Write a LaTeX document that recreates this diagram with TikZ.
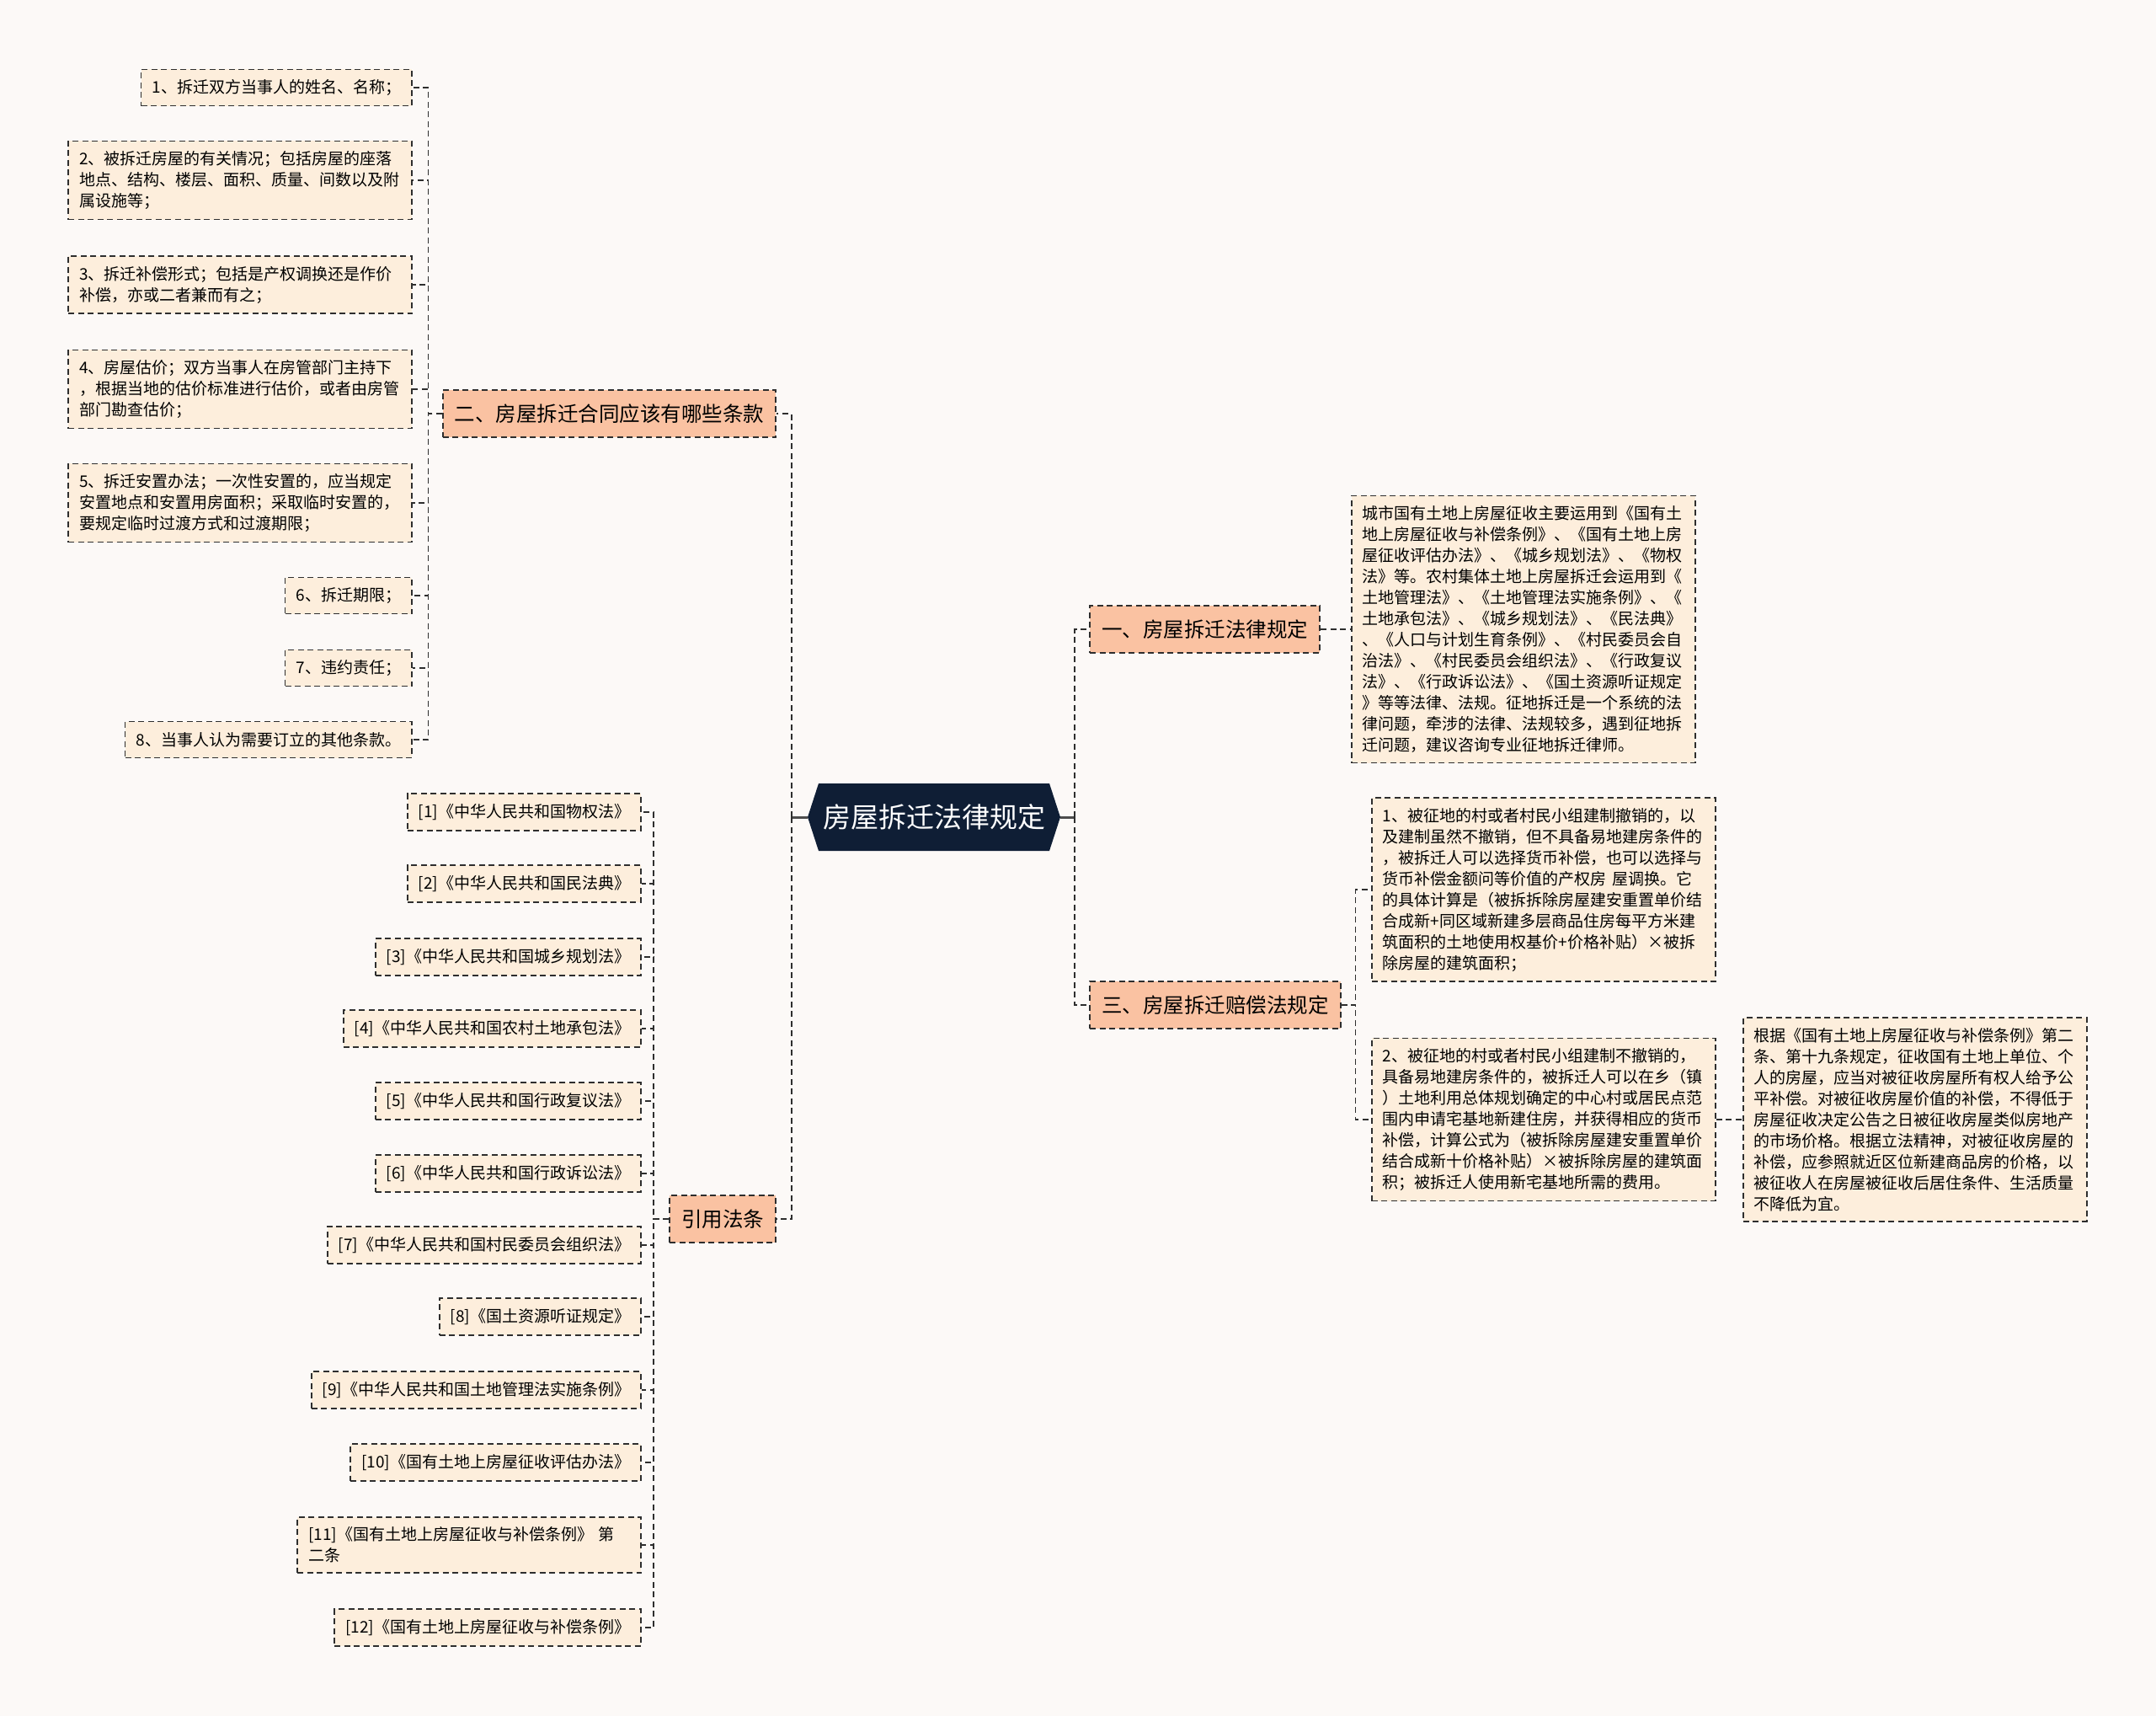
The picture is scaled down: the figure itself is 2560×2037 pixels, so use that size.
\documentclass[tikz,border=0pt]{standalone}
\usepackage{fontspec}
\setmainfont{Noto Sans CJK SC}
\usepackage{tikz}
\usetikzlibrary{shapes.symbols}
\definecolor{bgc}{HTML}{FCF9F7}
\definecolor{leafc}{HTML}{FDEEDC}
\definecolor{topicc}{HTML}{FAC2A2}
\definecolor{rootc}{HTML}{0F1E35}
\definecolor{linec}{HTML}{2E2E2E}
\tikzset{
  rootbox/.style ={signal, signal to=west and east, signal pointer angle=144,
                   fill=rootc, text=white, minimum width=300pt,
                   minimum height=80pt, inner sep=0pt,
                   font=\fontsize{33}{40}\selectfont},
  topic/.style   ={draw=linec, dash pattern=on 7pt off 4.5pt, line width=2pt,
                   fill=topicc, inner xsep=14pt, inner ysep=0pt,
                   minimum height=56pt, font=\fontsize{24.5}{30}\selectfont},
  leaf/.style    ={draw=linec, dash pattern=on 7pt off 4.5pt, line width=1.8pt,
                   fill=leafc, inner xsep=13pt, inner ysep=12pt,
                   minimum height=43pt, align=left,
                   font=\fontsize{19}{25}\selectfont},
  wrapleaf/.style={leaf, text width=382pt},
  link/.style    ={draw=linec, dash pattern=on 7pt off 4.5pt, line width=1.8pt},
  trunk/.style   ={draw=linec!85, line width=3pt},
}
\begin{document}
\begin{tikzpicture}[x=1pt, y=-1pt]
  \fill[bgc] (0,0) rectangle (2560,2037);
  \useasboundingbox (0,0) rectangle (2560,2037);
  % ---- root and its four topics
  \node[rootbox] (root) at (1109,970) {房屋拆迁法律规定};
  \node[topic, anchor=east] (two)   at (922,491)   {二、房屋拆迁合同应该有哪些条款};
  \node[topic, anchor=east] (cite)  at (922,1447)  {引用法条};
  \node[topic, anchor=west] (one)   at (1293,747)  {一、房屋拆迁法律规定};
  \node[topic, anchor=west] (three) at (1293,1193) {三、房屋拆迁赔偿法规定};
  \draw[trunk] (root.west) -- ++(-19,0) coordinate (lbus);
  \draw[trunk] (root.east) -- ++(17,0) coordinate (rbus);
  \draw[link] (lbus) |- (two.east);
  \draw[link] (lbus) |- (cite.east);
  \draw[link] (rbus) |- (one.west);
  \draw[link] (rbus) |- (three.west);
  % ---- contract clauses
  \node[leaf, anchor=east] (t1) at (490,104) {1、拆迁双方当事人的姓名、名称；};
  \node[wrapleaf, anchor=east] (t2) at (490,214)
    {2、被拆迁房屋的有关情况；包括房屋的座落\\地点、结构、楼层、面积、质量、间数以及附\\属设施等；};
  \node[wrapleaf, anchor=east] (t3) at (490,338)
    {3、拆迁补偿形式；包括是产权调换还是作价\\补偿，亦或二者兼而有之；};
  \node[wrapleaf, anchor=east] (t4) at (490,462)
    {4、房屋估价；双方当事人在房管部门主持下\\，根据当地的估价标准进行估价，或者由房管\\部门勘查估价；};
  \node[wrapleaf, anchor=east] (t5) at (490,597)
    {5、拆迁安置办法；一次性安置的，应当规定\\安置地点和安置用房面积；采取临时安置的，\\要规定临时过渡方式和过渡期限；};
  \node[leaf, anchor=east] (t6) at (490,707) {6、拆迁期限；};
  \node[leaf, anchor=east] (t7) at (490,793) {7、违约责任；};
  \node[leaf, anchor=east] (t8) at (490,878) {8、当事人认为需要订立的其他条款。};
  \draw[link] (two.west) -- ++(-16,0) |- (t1.east);
  \draw[link] (two.west) -- ++(-16,0) |- (t2.east);
  \draw[link] (two.west) -- ++(-16,0) |- (t3.east);
  \draw[link] (two.west) -- ++(-16,0) |- (t4.east);
  \draw[link] (two.west) -- ++(-16,0) |- (t5.east);
  \draw[link] (two.west) -- ++(-16,0) |- (t6.east);
  \draw[link] (two.west) -- ++(-16,0) |- (t7.east);
  \draw[link] (two.west) -- ++(-16,0) |- (t8.east);
  % ---- cited laws
  \node[leaf, anchor=east] (c1)  at (762,964)  {[1]《中华人民共和国物权法》};
  \node[leaf, anchor=east] (c2)  at (762,1049) {[2]《中华人民共和国民法典》};
  \node[leaf, anchor=east] (c3)  at (762,1136) {[3]《中华人民共和国城乡规划法》};
  \node[leaf, anchor=east] (c4)  at (762,1221) {[4]《中华人民共和国农村土地承包法》};
  \node[leaf, anchor=east] (c5)  at (762,1307) {[5]《中华人民共和国行政复议法》};
  \node[leaf, anchor=east] (c6)  at (762,1393) {[6]《中华人民共和国行政诉讼法》};
  \node[leaf, anchor=east] (c7)  at (762,1478) {[7]《中华人民共和国村民委员会组织法》};
  \node[leaf, anchor=east] (c8)  at (762,1563) {[8]《国土资源听证规定》};
  \node[leaf, anchor=east] (c9)  at (762,1650) {[9]《中华人民共和国土地管理法实施条例》};
  \node[leaf, anchor=east] (c10) at (762,1736) {[10]《国有土地上房屋征收评估办法》};
  \node[wrapleaf, anchor=east] (c11) at (762,1834)
    {[11]《国有土地上房屋征收与补偿条例》 第\\二条};
  \node[leaf, anchor=east] (c12) at (762,1932) {[12]《国有土地上房屋征收与补偿条例》};
  \draw[link] (cite.west) -- ++(-18,0) |- (c1.east);
  \draw[link] (cite.west) -- ++(-18,0) |- (c2.east);
  \draw[link] (cite.west) -- ++(-18,0) |- (c3.east);
  \draw[link] (cite.west) -- ++(-18,0) |- (c4.east);
  \draw[link] (cite.west) -- ++(-18,0) |- (c5.east);
  \draw[link] (cite.west) -- ++(-18,0) |- (c6.east);
  \draw[link] (cite.west) -- ++(-18,0) |- (c7.east);
  \draw[link] (cite.west) -- ++(-18,0) |- (c8.east);
  \draw[link] (cite.west) -- ++(-18,0) |- (c9.east);
  \draw[link] (cite.west) -- ++(-18,0) |- (c10.east);
  \draw[link] (cite.west) -- ++(-18,0) |- (c11.east);
  \draw[link] (cite.west) -- ++(-18,0) |- (c12.east);
  % ---- right side: rules and compensation
  \node[wrapleaf, anchor=west] (onetxt) at (1604,747)
    {城市国有土地上房屋征收主要运用到《国有土\\地上房屋征收与补偿条例》、《国有土地上房\\屋征收评估办法》、《城乡规划法》、《物权\\法》等。农村集体土地上房屋拆迁会运用到《\\土地管理法》、《土地管理法实施条例》、《\\土地承包法》、《城乡规划法》、《民法典》\\、《人口与计划生育条例》、《村民委员会自\\治法》、《村民委员会组织法》、《行政复议\\法》、《行政诉讼法》、《国土资源听证规定\\》等等法律、法规。征地拆迁是一个系统的法\\律问题，牵涉的法律、法规较多，遇到征地拆\\迁问题，建议咨询专业征地拆迁律师。};
  \node[wrapleaf, anchor=west] (th1) at (1628,1056)
    {1、被征地的村或者村民小组建制撤销的，以\\及建制虽然不撤销，但不具备易地建房条件的\\，被拆迁人可以选择货币补偿，也可以选择与\\货币补偿金额问等价值的产权房 屋调换。它\\的具体计算是（被拆拆除房屋建安重置单价结\\合成新+同区域新建多层商品住房每平方米建\\筑面积的土地使用权基价+价格补贴）×被拆\\除房屋的建筑面积；};
  \node[wrapleaf, anchor=west] (th2) at (1628,1329)
    {2、被征地的村或者村民小组建制不撤销的，\\具备易地建房条件的，被拆迁人可以在乡（镇\\）土地利用总体规划确定的中心村或居民点范\\围内申请宅基地新建住房，并获得相应的货币\\补偿，计算公式为（被拆除房屋建安重置单价\\结合成新十价格补贴）×被拆除房屋的建筑面\\积；被拆迁人使用新宅基地所需的费用。};
  \node[wrapleaf, anchor=west] (th2note) at (2069,1329)
    {根据《国有土地上房屋征收与补偿条例》第二\\条、第十九条规定，征收国有土地上单位、个\\人的房屋，应当对被征收房屋所有权人给予公\\平补偿。对被征收房屋价值的补偿，不得低于\\房屋征收决定公告之日被征收房屋类似房地产\\的市场价格。根据立法精神，对被征收房屋的\\补偿，应参照就近区位新建商品房的价格，以\\被征收人在房屋被征收后居住条件、生活质量\\不降低为宜。};
  \draw[link] (one.east) -- (onetxt.west);
  \draw[link] (three.east) -- ++(17,0) |- (th1.west);
  \draw[link] (three.east) -- ++(17,0) |- (th2.west);
  \draw[link] (th2.east) -- (th2note.west);
\end{tikzpicture}
\end{document}
